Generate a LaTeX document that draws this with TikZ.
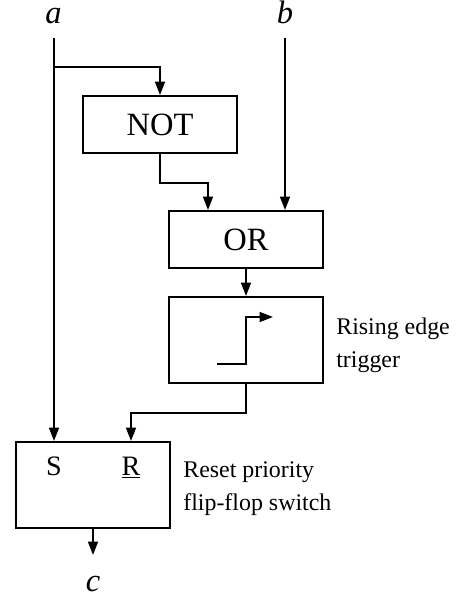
\documentclass[tikz,border=0pt]{standalone}
\usepackage{fontspec}
\setmainfont{Liberation Serif}
\usepackage{tikz}
\usetikzlibrary{arrows.meta}
\usetikzlibrary{positioning}
\tikzset{
  caixa/.style={draw, line width=1.1pt, minimum width=3.08cm, minimum height=#1, inner sep=0pt, font=\fontsize{18.5}{22}\selectfont},
  caixa/.default=1.14cm,
  seta/.style={-{Triangle[length=7.6pt,width=5.6pt]}, line width=1.1pt},
  nota/.style={align=left, inner sep=0pt, anchor=west, font=\fontsize{13.6}{18.7}\selectfont},
}

\begin{document}
\begin{tikzpicture}[
    sinal/.style={inner sep=0pt, anchor=base, font=\fontsize{18.5}{22}\selectfont\itshape},
    entrada/.style={inner sep=0pt, anchor=base, font=\fontsize{16}{19}\selectfont},
  ]
  \useasboundingbox (0,0) rectangle (9.24,-11.96);
  \node[sinal] (a) at (1.07,-0.48) {a};
  \node[sinal] (b) at (5.70,-0.48) {b};
  \node[sinal] (c) at (1.86,-11.82) {c};
  \coordinate (a0) at (1.08,-0.76);
  \coordinate (b0) at (5.70,-0.76);
  \coordinate (ramo) at (1.08,-1.34);
  \coordinate (c0) at (1.86,-11.10);

  \node[caixa] (nao) at (3.20,-2.49) {NOT};
  \node[caixa] (ou) at (4.92,-4.79) {OR};
  \node[caixa=1.72cm] (borda) at (4.92,-6.80) {};
  \node[caixa=1.72cm] (ff) at (1.86,-9.70) {};
  \node[entrada] (s) at (1.08,-9.50) {S};
  \node[entrada] (r) at (2.62,-9.50) {\underline{R}};
  \node[nota, right=0.24cm of borda, yshift=-0.1cm] (t1) {Rising edge\\trigger};
  \node[nota, right=0.24cm of ff, yshift=-0.08cm] (t2) {Reset priority\\flip-flop switch};

  \draw[seta] (a0) -- (a0 |- ff.north);
  \draw[seta] (ramo) -| (nao.north);
  \draw[seta] (nao.south) -- ++(0,-0.58) -| ([xshift=-0.76cm]ou.north);
  \draw[seta] (b0) -- (b0 |- ou.north);
  \draw[seta] (ou) -- (borda);
  \draw[seta] (borda.south) -- ++(0,-0.58) -| (r |- ff.north);
  \draw[seta] (ff) -- (c0);
  \draw[seta] ([shift={(-0.58,-0.48)}]borda.center) -| ([shift={(0,0.46)}]borda.center) -- ([shift={(0.54,0.46)}]borda.center);
\end{tikzpicture}
\end{document}
